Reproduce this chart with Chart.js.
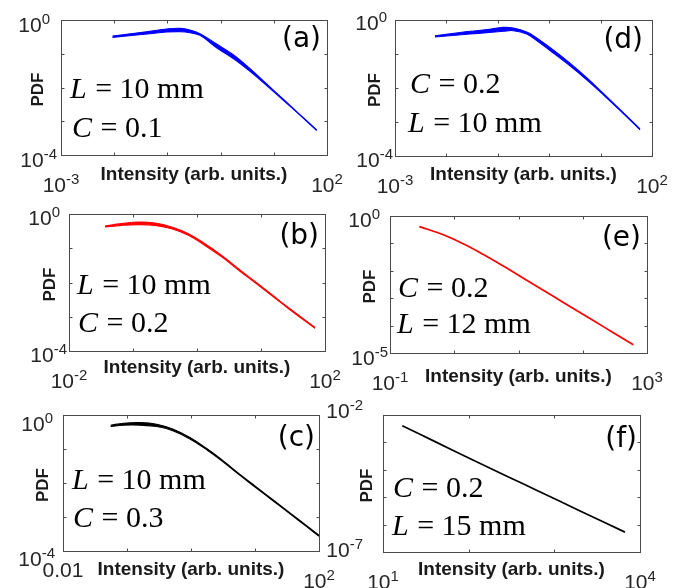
<!DOCTYPE html>
<html><head><meta charset="utf-8">
<script src="https://cdn.jsdelivr.net/npm/chart.js@4.4.1/dist/chart.umd.min.js"></script>
<style>
html,body{margin:0;padding:0;background:#fff;}
#wrap{position:relative;width:681px;height:588px;overflow:hidden;background:#fff;}
canvas{position:absolute;left:0;top:0;}
</style></head><body><div id="wrap"></div>
<script>
// ---------- data ----------
// (a) L = 10 mm, C = 0.1  (blue band)
const aX     = [0.0093, 0.047, 0.097, 0.173, 0.266, 0.41, 0.84, 1.73, 3.57, 7.35, 15.1, 31.0, 64.0];
const aUpper = [0.336, 0.461, 0.541, 0.566, 0.506, 0.394, 0.195, 0.0933, 0.0363, 0.0128, 0.00449, 0.00158, 0.000555];
const aLower = [0.306, 0.393, 0.440, 0.450, 0.421, 0.351, 0.151, 0.0724, 0.0302, 0.0114, 0.00419, 0.00151, 0.000530];
// (d) C = 0.2, L = 10 mm (blue band)
const dX     = [0.0060, 0.0288, 0.0607, 0.128, 0.200, 0.365, 0.570, 1.20, 2.54, 5.36, 11.3, 23.8, 58.5];
const dUpper = [0.346, 0.465, 0.520, 0.608, 0.582, 0.444, 0.296, 0.132, 0.0537, 0.0200, 0.00692, 0.00234, 0.000631];
const dLower = [0.316, 0.387, 0.424, 0.465, 0.485, 0.387, 0.247, 0.107, 0.0447, 0.0174, 0.00631, 0.00219, 0.000589];
// (b) L = 10 mm, C = 0.2 (red band)
const bX     = [0.0365, 0.0665, 0.121, 0.221, 0.402, 0.733, 1.33, 2.43, 4.43, 8.05, 14.7, 26.7, 69.8];
const bUpper = [0.447, 0.522, 0.583, 0.546, 0.417, 0.267, 0.136, 0.0621, 0.0254, 0.0107, 0.00447, 0.00186, 0.000490];
const bLower = [0.417, 0.466, 0.489, 0.465, 0.372, 0.238, 0.121, 0.0560, 0.0231, 0.00989, 0.00417, 0.00174, 0.000457];
// (e) C = 0.2, L = 12 mm (red line)
const eX = [0.286, 0.676, 1.38, 2.84, 5.81, 11.9, 24.3, 49.9, 102, 209, 429, 612];
const eY = [0.408, 0.206, 0.0968, 0.0394, 0.0149, 0.00538, 0.00195, 0.000702, 0.000254, 0.0000916, 0.0000330, 0.0000199];
// (c) L = 10 mm, C = 0.3 (black band)
const cX     = [0.0556, 0.0877, 0.160, 0.291, 0.530, 0.964, 1.76, 3.20, 5.83, 10.6, 19.3, 35.2, 64.1, 100];
const cUpper = [0.501, 0.574, 0.601, 0.537, 0.382, 0.217, 0.103, 0.0445, 0.0179, 0.00753, 0.00316, 0.00132, 0.000556, 0.000292];
const cLower = [0.457, 0.500, 0.500, 0.457, 0.340, 0.198, 0.0948, 0.0415, 0.0167, 0.00703, 0.00295, 0.00124, 0.000519, 0.000272];
// (f) C = 0.2, L = 15 mm (black line)
const fX = [16.8, 40, 103, 300, 620, 2000, 6670];
const fY = [0.00406, 0.00109, 0.000259, 0.0000527, 0.0000179, 0.00000316, 5.32e-7];

// tick values (decades) and end labels
const aXTicks = [1e-3, 1e-2, 1e-1, 1, 10, 100], aYTicks = [1, 1e-1, 1e-2, 1e-3, 1e-4];
const bXTicks = [1e-2, 1e-1, 1, 10, 100],        bYTicks = [1, 1e-1, 1e-2, 1e-3, 1e-4];
const cXTicks = [1e-2, 1e-1, 1, 10, 100],        cYTicks = [1, 1e-1, 1e-2, 1e-3, 1e-4];
const dXTicks = [1e-3, 1e-2, 1e-1, 1, 10, 100], dYTicks = [1, 1e-1, 1e-2, 1e-3, 1e-4];
const eXTicks = [1e-1, 1, 10, 100, 1000],        eYTicks = [1, 1e-1, 1e-2, 1e-3, 1e-4, 1e-5];
const fXTicks = [10, 100, 1000, 10000],          fYTicks = [1e-2, 1e-3, 1e-4, 1e-5, 1e-6, 1e-7];
const aXLabels = ['10^-3', '10^2'], aYLabels = ['10^0', '10^-4'];
const bXLabels = ['10^-2', '10^2'], bYLabels = ['10^0', '10^-4'];
const cXLabels = ['0.01', '10^2'],  cYLabels = ['10^0', '10^-4'];
const dXLabels = ['10^-3', '10^2'], dYLabels = ['10^0', '10^-4'];
const eXLabels = ['10^-1', '10^3'], eYLabels = ['10^0', '10^-5'];
const fXLabels = ['10^1', '10^4'],  fYLabels = ['10^-2', '10^-7'];

const xTitle = 'Intensity (arb. units.)';
const yTitle = 'PDF';
const aNotes = ['L = 10 mm', 'C = 0.1'];
const dNotes = ['C = 0.2', 'L = 10 mm'];
const bNotes = ['L = 10 mm', 'C = 0.2'];
const eNotes = ['C = 0.2', 'L = 12 mm'];
const cNotes = ['L = 10 mm', 'C = 0.3'];
const fNotes = ['C = 0.2', 'L = 15 mm'];

// ---------- layout ----------
const SANS = '"Liberation Sans", Arial, Helvetica, sans-serif';
const SERIF = '"Liberation Serif", "Times New Roman", serif';
const TAGF = '"DejaVu Sans", sans-serif';
const W = 681, H = 588;

const panels = [
  {tag:'(a)', box:[61,20,327,155], x:aX, series:[aUpper,aLower], color:'#0000ff', xT:aXTicks, yT:aYTicks, xL:aXLabels, yL:aYLabels, notes:aNotes,
   yGap:[11,4], yDy:[12,12], titleDy:25, pdfDx:18, noteOff:[[9,78],[11,117]], tagOff:[6,27]},
  {tag:'(d)', box:[395,20,652,156], x:dX, series:[dUpper,dLower], color:'#0000ff', xT:dXTicks, yT:dYTicks, xL:dXLabels, yL:dYLabels, notes:dNotes,
   yGap:[8,2], yDy:[10,11], titleDy:24, pdfDx:15, noteOff:[[15,73],[13,112]], tagOff:[9,28]},
  {tag:'(b)', box:[69,214,325,351], x:bX, series:[bUpper,bLower], color:'#ff0000', xT:bXTicks, yT:bYTicks, xL:bXLabels, yL:bYLabels, notes:bNotes,
   yGap:[9,2], yDy:[11,11], titleDy:22, pdfDx:14, noteOff:[[8,80],[9,118]], tagOff:[6,30]},
  {tag:'(e)', box:[390,216,647,353], x:eX, series:[eY], color:'#ff0000', xT:eXTicks, yT:eYTicks, xL:eXLabels, yL:eYLabels, notes:eNotes,
   yGap:[10,2], yDy:[11,12], titleDy:29, pdfDx:15, noteOff:[[8,81],[7,117]], tagOff:[6,30]},
  {tag:'(c)', box:[63,415,319,551], x:cX, series:[cUpper,cLower], color:'#000000', xT:cXTicks, yT:cYTicks, xL:cXLabels, yL:cYLabels, notes:cNotes,
   yGap:[10,8], yDy:[16,15], titleDy:24, pdfDx:15, noteOff:[[9,74],[10,112]], tagOff:[4,31]},
  {tag:'(f)', box:[383,415,640,552], x:fX, series:[fY], color:'#000000', xT:fXTicks, yT:fYTicks, xL:fXLabels, yL:fYLabels, notes:fNotes,
   yGap:[20,20], yDy:[3,5], titleDy:23, pdfDx:11, noteOff:[[10,82],[9,120]], tagOff:[3,32]},
];

function drawTickLabel(ctx, label, x, y, align) {
  const parts = label.split('^');
  const base = parts[0], exp = parts[1];
  ctx.font = '21px ' + SANS;
  const wb = ctx.measureText(base).width;
  let we = 0;
  if (exp !== undefined) { ctx.font = '15px ' + SANS; we = ctx.measureText(exp).width; }
  const w = wb + we;
  const x0 = align === 'right' ? x - w : (align === 'center' ? x - w / 2 : x);
  ctx.textAlign = 'left'; ctx.textBaseline = 'alphabetic';
  ctx.font = '21px ' + SANS; ctx.fillText(base, x0, y);
  if (exp !== undefined) { ctx.font = '15px ' + SANS; ctx.fillText(exp, x0 + wb, y - 8); }
}

function drawNote(ctx, text, x, y) {
  ctx.textAlign = 'left'; ctx.textBaseline = 'alphabetic';
  ctx.font = 'italic 30px ' + SERIF;
  const first = text[0];
  ctx.fillText(first, x, y);
  const w1 = ctx.measureText(first).width;
  ctx.font = '30px ' + SERIF;
  ctx.fillText(text.slice(1), x + w1 + 1, y);
}

const deco = {
  id: 'deco',
  afterDraw(chart, args, o) {
    const p = o.panel;
    const ctx = chart.ctx, a = chart.chartArea;
    const xs = chart.scales.x, ys = chart.scales.y;
    ctx.save();
    // box
    ctx.strokeStyle = '#4a4a4a'; ctx.lineWidth = 1;
    const L = Math.round(a.left) + 0.5, T = Math.round(a.top) + 0.5, R = Math.round(a.right) + 0.5, B = Math.round(a.bottom) + 0.5;
    ctx.strokeRect(L, T, R - L, B - T);
    // inner tick marks on all sides
    const tl = 3;
    ctx.beginPath();
    p.xT.forEach(v => { const px = Math.round(xs.getPixelForValue(v)) + 0.5; ctx.moveTo(px, B); ctx.lineTo(px, B - tl); ctx.moveTo(px, T); ctx.lineTo(px, T + tl); });
    p.yT.forEach(v => { const py = Math.round(ys.getPixelForValue(v)) + 0.5; ctx.moveTo(L, py); ctx.lineTo(L + tl, py); ctx.moveTo(R, py); ctx.lineTo(R - tl, py); });
    ctx.stroke();
    // tick labels
    ctx.fillStyle = '#262626';
    const xEnds = [xs.min, xs.max];
    p.xL.forEach((lab, i) => {
      const px = xs.getPixelForValue(xEnds[i]);
      const dy = lab.indexOf('^') >= 0 ? 37 : 26;
      drawTickLabel(ctx, lab, px, a.bottom + dy, 'center');
    });
    const yEnds = [ys.max, ys.min];
    p.yL.forEach((lab, i) => {
      const py = ys.getPixelForValue(yEnds[i]);
      drawTickLabel(ctx, lab, a.left - p.yGap[i], py + p.yDy[i], 'right');
    });
    // axis titles
    ctx.fillStyle = '#1a1a1a';
    ctx.font = 'bold 19px ' + SANS; ctx.textAlign = 'center'; ctx.textBaseline = 'alphabetic';
    ctx.fillText(xTitle, (a.left + a.right) / 2, a.bottom + p.titleDy);
    ctx.save();
    ctx.translate(a.left - p.pdfDx, (a.top + a.bottom) / 2 + 2);
    ctx.rotate(-Math.PI / 2);
    ctx.font = 'bold 17px ' + SANS;
    ctx.fillText(yTitle, 0, 0);
    ctx.restore();
    // annotations
    ctx.fillStyle = '#000';
    p.notes.forEach((t, i) => drawNote(ctx, t, a.left + p.noteOff[i][0], a.top + p.noteOff[i][1]));
    // panel tag
    ctx.font = '28px ' + TAGF; ctx.textAlign = 'right';
    ctx.fillText(p.tag, a.right - p.tagOff[0], a.top + p.tagOff[1]);
    ctx.restore();
  }
};

const wrap = document.getElementById('wrap');
panels.forEach(p => {
  const cv = document.createElement('canvas');
  cv.width = W; cv.height = H;
  cv.style.width = W + 'px'; cv.style.height = H + 'px';
  wrap.appendChild(cv);
  const datasets = p.series.map((s, k) => ({
    data: p.x.map((x, i) => ({x: x, y: s[i]})),
    borderColor: p.color,
    backgroundColor: p.color,
    borderWidth: p.series.length > 1 ? 1.1 : 1.7,
    pointRadius: 0,
    tension: 0.4,
    fill: k === 1 ? '-1' : false
  }));
  new Chart(cv, {
    type: 'line',
    data: { datasets },
    options: {
      responsive: false, animation: false, events: [],
      layout: { padding: { left: p.box[0], top: p.box[1], right: W - p.box[2], bottom: H - p.box[3] } },
      plugins: { legend: { display: false }, tooltip: { enabled: false }, deco: { panel: p } },
      scales: {
        x: { type: 'logarithmic', min: p.xT[0], max: p.xT[p.xT.length - 1], display: false },
        y: { type: 'logarithmic', min: p.yT[p.yT.length - 1], max: p.yT[0], display: false }
      }
    },
    plugins: [deco]
  });
});
</script>
</body></html>
